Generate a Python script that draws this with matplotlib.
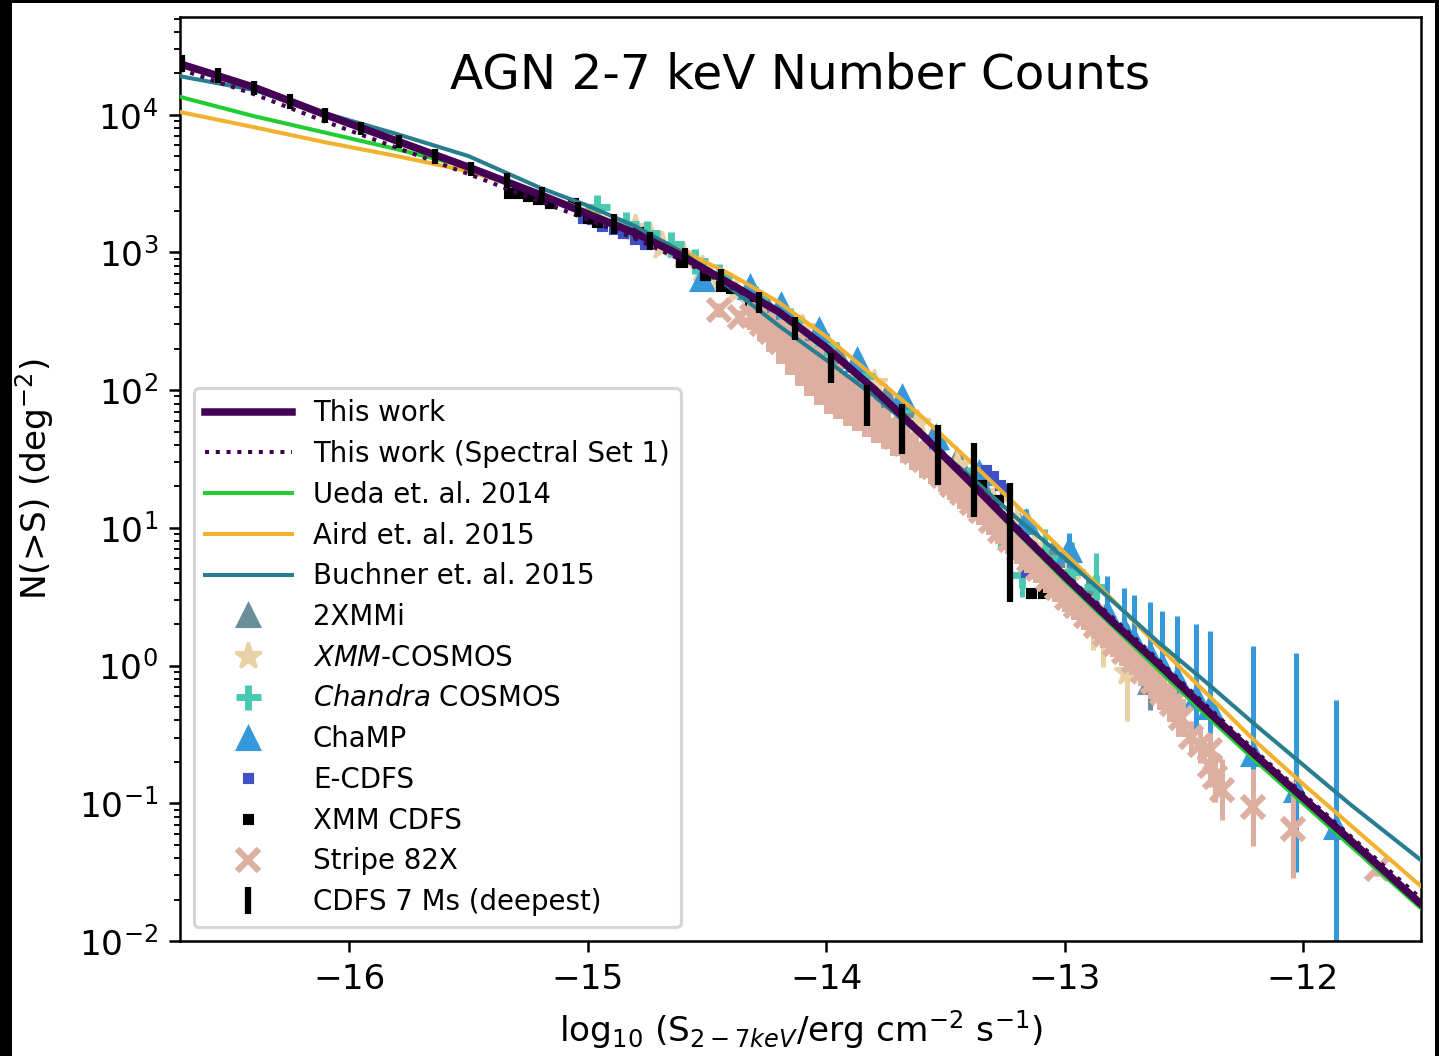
import numpy as np
import matplotlib
matplotlib.use('Agg')
import matplotlib.pyplot as plt
from matplotlib.patches import Rectangle

# ---- model curves, log10 N(>S) ----
curve_x = [-16.71, -16.4, -16.1, -15.8, -15.5, -15.2, -15.0, -14.8, -14.6, -14.4, -14.2, -14.0,
           -13.8, -13.6, -13.4, -13.2, -13.0, -12.8, -12.6, -12.4, -12.2, -12.0, -11.8, -11.5]
this_work = [4.37, 4.20, 4.00, 3.81, 3.62, 3.42, 3.28, 3.14, 2.97, 2.77, 2.57, 2.31,
             2.01, 1.68, 1.34, 0.99, 0.65, 0.32, 0.00, -0.33, -0.65, -0.96, -1.27, -1.74]
this_work_set1 = [4.33, 4.15, 3.95, 3.76, 3.57, 3.37, 3.24, 3.10, 2.94, 2.75, 2.56, 2.31,
                  2.02, 1.70, 1.36, 1.01, 0.67, 0.35, 0.03, -0.30, -0.62, -0.93, -1.24, -1.70]
ueda14 = [4.13, 3.99, 3.87, 3.75, 3.62, 3.43, 3.28, 3.13, 2.96, 2.76, 2.56, 2.31,
          2.01, 1.68, 1.33, 0.97, 0.62, 0.29, -0.04, -0.37, -0.69, -1.00, -1.31, -1.77]
aird15 = [4.02, 3.91, 3.80, 3.70, 3.59, 3.43, 3.30, 3.15, 3.01, 2.84, 2.64, 2.39,
          2.10, 1.81, 1.49, 1.16, 0.82, 0.48, 0.13, -0.21, -0.55, -0.86, -1.16, -1.61]
buchner15 = [4.28, 4.18, 4.01, 3.86, 3.70, 3.47, 3.34, 3.19, 3.00, 2.74, 2.47, 2.22,
             1.96, 1.67, 1.38, 1.07, 0.78, 0.47, 0.16, -0.13, -0.43, -0.72, -1.01, -1.42]

# ---- data sets (x = log10 S, y = log10 N, err in dex) ----
xmmi_x = [-14.25, -14.10, -13.95, -13.85, -13.75, -13.65, -13.55, -13.45, -13.35, -13.20, -13.05, -12.90, -12.75, -12.64]
xmmi_y = [2.60, 2.43, 2.25, 2.12, 1.95, 1.82, 1.65, 1.49, 1.31, 1.05, 0.80, 0.52, 0.22, -0.12]
xmmi_e = [0.03, 0.03, 0.03, 0.04, 0.04, 0.05, 0.05, 0.06, 0.07, 0.08, 0.10, 0.12, 0.15, 0.20]

xcos_x = [-14.80, -14.74, -14.69, -14.60, -14.52, -14.45, -14.38, -14.10, -13.80, -13.62, -13.45,
          -13.30, -13.20, -13.13, -12.99, -12.88, -12.84, -12.74]
xcos_y = [3.18, 3.12, 3.05, 2.98, 2.88, 2.80, 2.72, 2.45, 2.05, 1.76, 1.46, 1.18, 1.03, 0.86, 0.62, 0.31, 0.22, -0.05]
xcos_e = [0.03, 0.03, 0.03, 0.04, 0.04, 0.04, 0.05, 0.05, 0.06, 0.08, 0.10, 0.12, 0.13, 0.14, 0.16, 0.20, 0.23, 0.35]

ccos_x = [-14.96, -14.84, -14.75, -14.65, -14.55, -14.45, -14.30, -14.15, -14.00, -13.85, -13.70,
          -13.55, -13.40, -13.27, -13.18, -13.08, -12.97, -12.87]
ccos_y = [3.33, 3.21, 3.14, 3.06, 2.94, 2.83, 2.67, 2.51, 2.33, 2.10, 1.86, 1.59, 1.32, 1.03, 0.66, 0.78, 0.68, 0.57]
ccos_e = [0.03, 0.03, 0.03, 0.03, 0.04, 0.04, 0.05, 0.05, 0.06, 0.07, 0.08, 0.10, 0.12, 0.17, 0.16, 0.21, 0.22, 0.25]

champ_x = [-14.52, -14.32, -14.19, -14.03, -13.87, -13.68, -13.54, -13.36, -13.16, -12.98, -12.82,
           -12.75, -12.71, -12.64, -12.59, -12.53, -12.45, -12.39, -12.21, -12.03, -11.86]
champ_y = [2.81, 2.75, 2.62, 2.44, 2.22, 1.95, 1.66, 1.40, 1.04, 0.84, 0.38, 0.26, 0.18, 0.08, 0.00,
           -0.10, -0.23, -0.30, -0.64, -0.90, -1.17]
champ_hi = [0.03, 0.03, 0.03, 0.04, 0.04, 0.05, 0.06, 0.07, 0.10, 0.12, 0.27, 0.30, 0.33, 0.38, 0.40,
            0.46, 0.53, 0.55, 0.78, 0.99, 0.92]
champ_lo = [0.03, 0.03, 0.03, 0.04, 0.04, 0.05, 0.06, 0.08, 0.10, 0.13, 0.15, 0.17, 0.19, 0.20, 0.18,
            0.22, 0.26, 0.25, 0.30, 0.60, 1.50]

ecdfs_x = [-15.02, -14.98, -14.94, -14.89, -14.85, -14.80, -14.76, -13.33, -13.30, -13.27, -13.25, -13.16, -13.12]
ecdfs_y = [3.25, 3.24, 3.19, 3.17, 3.14, 3.10, 3.06, 1.42, 1.38, 1.31, 1.28, 0.68, 0.72]

xcdfs_x = [-15.33, -15.29, -15.25, -15.21, -15.16, -15.06, -15.00, -14.96, -14.79, -14.61, -14.51,
           -14.44, -14.40, -14.32, -13.35, -13.28, -13.14, -13.09]
xcdfs_y = [3.43, 3.43, 3.41, 3.39, 3.36, 3.36, 3.25, 3.22, 3.15, 2.93, 2.84, 2.76, 2.74, 2.62, 1.31, 1.20, 0.53, 0.53]

# Stripe 82X: dense band of faint sources ...
s82_x = [-14.31, -14.27, -14.23, -14.19, -14.15, -14.11, -14.07, -14.03, -13.99, -13.95,
         -13.91, -13.87, -13.83, -13.79, -13.75, -13.71, -13.67, -13.63, -13.59, -13.55, -13.51, -13.47,
         -13.43, -13.39, -13.35, -13.31, -13.27, -13.23, -13.19, -13.15, -13.11, -13.07, -13.03, -12.99,
         -12.95, -12.91, -12.87, -12.83, -12.79, -12.75, -12.71, -12.67, -12.63, -12.59, -12.55, -12.51]
s82_y = [2.54, 2.48, 2.42, 2.35, 2.29, 2.22, 2.16, 2.10, 2.04, 1.99,
         1.93, 1.88, 1.83, 1.78, 1.72, 1.66, 1.61, 1.55, 1.49, 1.44, 1.38, 1.31,
         1.25, 1.18, 1.12, 1.05, 0.98, 0.91, 0.84, 0.77, 0.70, 0.63, 0.56, 0.49,
         0.43, 0.36, 0.29, 0.23, 0.16, 0.10, 0.03, -0.04, -0.12, -0.20, -0.28, -0.38]
s82_e = [0.10, 0.12, 0.14, 0.16, 0.18, 0.19, 0.20, 0.21, 0.21, 0.20,
         0.19, 0.18, 0.17, 0.16, 0.15, 0.14, 0.14, 0.13, 0.13, 0.12, 0.12, 0.11,
         0.11, 0.11, 0.10, 0.10, 0.10, 0.10, 0.10, 0.10, 0.10, 0.10, 0.10, 0.10,
         0.10, 0.10, 0.10, 0.10, 0.10, 0.10, 0.10, 0.11, 0.12, 0.12, 0.13, 0.14]
# ... and the sparse bright end
s82b_x = [-14.45, -14.36, -12.47, -12.43, -12.39, -12.39, -12.37, -12.34, -12.21, -12.04, -11.69]
s82b_y = [2.58, 2.53, -0.52, -0.58, -0.61, -0.73, -0.81, -0.90, -1.03, -1.19, -1.48]
s82b_e = [0.05, 0.05, 0.12, 0.13, 0.12, 0.15, 0.18, 0.22, 0.28, 0.35, 0.05]

cdfs7_x = [-16.70, -16.55, -16.40, -16.25, -16.10, -15.95, -15.79, -15.64, -15.49, -15.34, -15.19, -15.04,
           -14.89, -14.74, -14.59, -14.44, -14.28, -14.13, -13.98, -13.83, -13.68, -13.53, -13.38, -13.23]
cdfs7_y = [4.374, 4.287, 4.196, 4.098, 3.996, 3.902, 3.808, 3.699, 3.608, 3.524, 3.419, 3.310,
           3.208, 3.085, 2.962, 2.805, 2.638, 2.450, 2.163, 1.890, 1.720, 1.530, 1.346, 0.895]
cdfs7_e = [0.062, 0.055, 0.050, 0.055, 0.055, 0.047, 0.047, 0.055, 0.050, 0.055, 0.055, 0.055,
           0.073, 0.065, 0.073, 0.076, 0.076, 0.085, 0.11, 0.15, 0.18, 0.22, 0.27, 0.43]


def to_lin(y, lo, hi):
    y = np.array(y)
    n = 10 ** y
    return n, [n - 10 ** (y - np.array(lo)), 10 ** (y + np.array(hi)) - n]


fig = plt.figure(figsize=(1439 / 225, 1056 / 225), dpi=225, facecolor='black')
# white page inside the black screenshot frame
fig.patches.append(Rectangle((12 / 1439, 0), 1423 / 1439, 1053 / 1056, transform=fig.transFigure,
                             facecolor='white', edgecolor='none', zorder=-10))
ax = fig.add_axes([180 / 1439, 115 / 1056, 1241 / 1439, 924 / 1056])

# data sets (error bars first, markers on top)
n, e = to_lin(xmmi_y, xmmi_e, xmmi_e)
ax.errorbar(xmmi_x, n, yerr=e, fmt='none', ecolor='#6b8f99', elinewidth=1.6, zorder=2)
h_xmmi, = ax.plot(xmmi_x, n, ls='none', marker='^', ms=7, color='#6b8f99', label='2XMMi', zorder=2)

n, e = to_lin(xcos_y, xcos_e, xcos_e)
ax.errorbar(xcos_x, n, yerr=e, fmt='none', ecolor='#e9d1a6', elinewidth=1.6, zorder=2)
h_xcos, = ax.plot(xcos_x, n, ls='none', marker='*', ms=9, color='#e9d1a6', label='$XMM$-COSMOS', zorder=2)

n, e = to_lin(ccos_y, ccos_e, ccos_e)
ax.errorbar(ccos_x, n, yerr=e, fmt='none', ecolor='#48c9b0', elinewidth=1.6, zorder=2)
h_ccos, = ax.plot(ccos_x, n, ls='none', marker='+', ms=8, mew=2.2, color='#48c9b0',
                  label='$Chandra$ COSMOS', zorder=2)

n, e = to_lin(champ_y, champ_lo, champ_hi)
ax.errorbar(champ_x, n, yerr=e, fmt='none', ecolor='#3498db', elinewidth=1.6, zorder=2)
h_champ, = ax.plot(champ_x, n, ls='none', marker='^', ms=7, color='#3498db', label='ChaMP', zorder=2)

h_ecdfs, = ax.plot(ecdfs_x, 10 ** np.array(ecdfs_y), ls='none', marker='s', ms=2.5, color='#3f51c4',
                   label='E-CDFS', zorder=2)
h_xcdfs, = ax.plot(xcdfs_x, 10 ** np.array(xcdfs_y), ls='none', marker='s', ms=2.5, color='black',
                   label='XMM CDFS', zorder=2)

s82_col = '#ddafa1'
n, e = to_lin(s82_y, s82_e, s82_e)
ax.errorbar(s82_x, n, yerr=e, fmt='none', ecolor=s82_col, elinewidth=3.2, zorder=2.5)
ax.plot(s82_x, n, ls='none', marker='x', ms=7, mew=2, color=s82_col, zorder=2.5)
n, e = to_lin(s82b_y, s82b_e, s82b_e)
ax.errorbar(s82b_x, n, yerr=e, fmt='none', ecolor=s82_col, elinewidth=1.6, zorder=2.5)
h_s82, = ax.plot(s82b_x, n, ls='none', marker='x', ms=7, mew=2, color=s82_col, label='Stripe 82X', zorder=2.5)

# model curves
h_tw, = ax.plot(curve_x, 10 ** np.array(this_work), color='#440154', lw=2.4, label='This work', zorder=4)
h_tw1, = ax.plot(curve_x, 10 ** np.array(this_work_set1), color='#440154', lw=1.3, ls=':',
                 label='This work (Spectral Set 1)', zorder=4)
h_ueda, = ax.plot(curve_x, 10 ** np.array(ueda14), color='#22cc33', lw=1.3, label='Ueda et. al. 2014', zorder=3)
h_aird, = ax.plot(curve_x, 10 ** np.array(aird15), color='#f2b230', lw=1.3, label='Aird et. al. 2015', zorder=3)
h_buch, = ax.plot(curve_x, 10 ** np.array(buchner15), color='#287d8e', lw=1.3, label='Buchner et. al. 2015', zorder=3)

n, e = to_lin(cdfs7_y, cdfs7_e, cdfs7_e)
h_cdfs7 = ax.errorbar(cdfs7_x, n, yerr=e, fmt='none', ecolor='black', elinewidth=2.0, zorder=5,
                      label='CDFS 7 Ms (deepest)')

ax.set_yscale('log')
ax.set_xlim(-16.71, -11.505)
ax.set_ylim(1e-2, 10 ** 4.71)
ax.set_xticks([-16, -15, -14, -13, -12])
ax.tick_params(labelsize=11)

ax.text(0.5, 0.923, 'AGN 2-7 keV Number Counts', transform=ax.transAxes, ha='center',
        va='baseline', fontsize=15.5)
ax.set_xlabel(r'log$_{10}$ (S$_{2-7keV}$/erg cm$^{-2}$ s$^{-1}$)', fontsize=11)
ax.set_ylabel(r'N(>S) (deg$^{-2}$)', fontsize=11, labelpad=7.2)

ax.legend(handles=[h_tw, h_tw1, h_ueda, h_aird, h_buch, h_xmmi, h_xcos, h_ccos, h_champ,
                   h_ecdfs, h_xcdfs, h_s82, h_cdfs7],
          loc='lower left', fontsize=8.85, handlelength=3.15, handletextpad=0.75, labelspacing=0.46)

fig.savefig('out.png', dpi=225)
